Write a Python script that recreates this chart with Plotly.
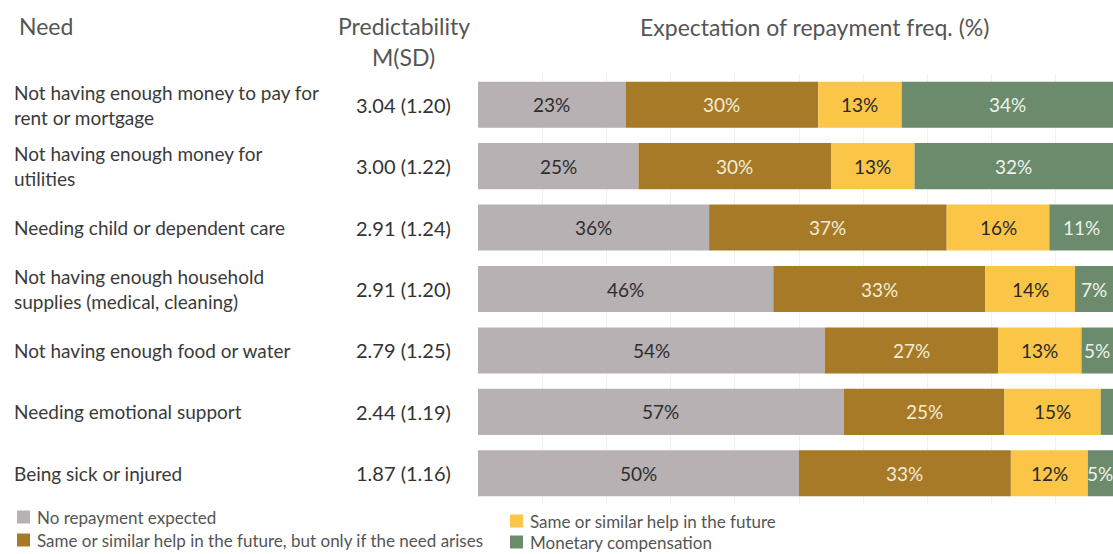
import plotly.graph_objects as go

# ---------------- data ----------------
needs = [
    "Not having enough money to pay for<br>rent or mortgage",
    "Not having enough money for<br>utilities",
    "Needing child or dependent care",
    "Not having enough household<br>supplies (medical, cleaning)",
    "Not having enough food or water",
    "Needing emotional support",
    "Being sick or injured",
]
predictability = ["3.04 (1.20)", "3.00 (1.22)", "2.91 (1.24)", "2.91 (1.20)",
                  "2.79 (1.25)", "2.44 (1.19)", "1.87 (1.16)"]

series_names = [
    "No repayment expected",
    "Same or similar help in the future, but only if the need arises",
    "Same or similar help in the future",
    "Monetary compensation",
]
no_repayment = [23, 25, 36, 46, 54, 57, 50]
if_need_arises = [30, 30, 37, 33, 27, 25, 33]
similar_help = [13, 13, 16, 14, 13, 15, 12]
monetary = [34, 32, 11, 7, 5, 3, 5]
series_values = [no_repayment, if_need_arises, similar_help, monetary]

# ---------------- style ----------------
colors = ["#b7b1b4", "#a67a26", "#fbc548", "#6b8b6c"]
text_colors = ["#2e2e2e", "#f6ecd6", "#2a2a2a", "#eef2ea"]
FONT = "Lato"

W, H = 1113, 554
ML, MR, MT, MB = 478, 0, 74, 50
PW, PH = W - ML - MR, H - MT - MB
PX_PER_PCT = 6.42
x_max = PW / PX_PER_PCT


def px_x(px):
    return (px - ML) / PW


def px_y(py):
    return (H - MB - py) / PH


fig = go.Figure()
annotations = []

cum = [0] * len(needs)
for name, vals, col, tcol in zip(series_names, series_values, colors, text_colors):
    fig.add_trace(go.Bar(
        y=needs, x=vals, base=cum[:], orientation="h", name=name,
        marker=dict(color=col, line=dict(width=0)), showlegend=False,
        hoverinfo="skip",
    ))
    for i, v in enumerate(vals):
        if v >= 4:
            # centre of the visible part of the segment
            annotations.append(dict(
                x=(cum[i] + min(cum[i] + v, x_max)) / 2, xref="x",
                y=needs[i], yref="y", text=f"{v}%", showarrow=False,
                xanchor="center", yanchor="middle",
                font=dict(family=FONT, size=19, color=tcol),
            ))
    cum = [c + v for c, v in zip(cum, vals)]

# row labels and predictability values
for need, pred in zip(needs, predictability):
    annotations.append(dict(
        x=px_x(12), xref="paper", y=need, yref="y", text=need, showarrow=False,
        xanchor="left", align="left", font=dict(family=FONT, size=19, color="#3a3a3a"),
    ))
    annotations.append(dict(
        x=px_x(403), xref="paper", y=need, yref="y", text=pred, showarrow=False,
        xanchor="center", font=dict(family=FONT, size=20, color="#333333"),
    ))

# headers
hdr_font = dict(family=FONT, size=23, color="#555555")
annotations += [
    dict(x=px_x(17), y=px_y(26), xref="paper", yref="paper", text="Need",
         showarrow=False, xanchor="left", yanchor="middle", font=hdr_font),
    dict(x=px_x(404), y=px_y(26), xref="paper", yref="paper", text="Predictability",
         showarrow=False, xanchor="center", yanchor="middle", font=hdr_font),
    dict(x=px_x(403), y=px_y(57), xref="paper", yref="paper", text="M(SD)",
         showarrow=False, xanchor="center", yanchor="middle", font=hdr_font),
    dict(x=px_x(814), y=px_y(27), xref="paper", yref="paper",
         text="Expectation of repayment freq. (%)",
         showarrow=False, xanchor="center", yanchor="middle", font=hdr_font),
]

# custom legend
shapes = []
legend_pos = [(17, 517), (17, 540), (510, 521), (510, 542)]
for name, col, (lx, ly) in zip(series_names, colors, legend_pos):
    shapes.append(dict(type="rect", xref="paper", yref="paper",
                       x0=px_x(lx), x1=px_x(lx + 13), y0=px_y(ly + 6.5), y1=px_y(ly - 6.5),
                       fillcolor=col, line=dict(width=0)))
    annotations.append(dict(
        x=px_x(lx + 18), y=px_y(ly), xref="paper", yref="paper", text=name,
        showarrow=False, xanchor="left", yanchor="middle",
        font=dict(family=FONT, size=17, color="#555555"),
    ))

fig.update_layout(
    width=W, height=H,
    margin=dict(l=ML, r=MR, t=MT, b=MB),
    barmode="overlay", bargap=0.25,
    plot_bgcolor="white", paper_bgcolor="white",
    xaxis=dict(range=[0, x_max], showgrid=True, gridcolor="#f0f0f0", gridwidth=1,
               dtick=10, tick0=0, showticklabels=False, zeroline=False,
               showline=False, fixedrange=True),
    yaxis=dict(autorange="reversed", showticklabels=False, showgrid=False,
               zeroline=False, showline=False, fixedrange=True),
    annotations=annotations,
    shapes=shapes,
    font=dict(family=FONT),
)

fig.write_html("out.html")
